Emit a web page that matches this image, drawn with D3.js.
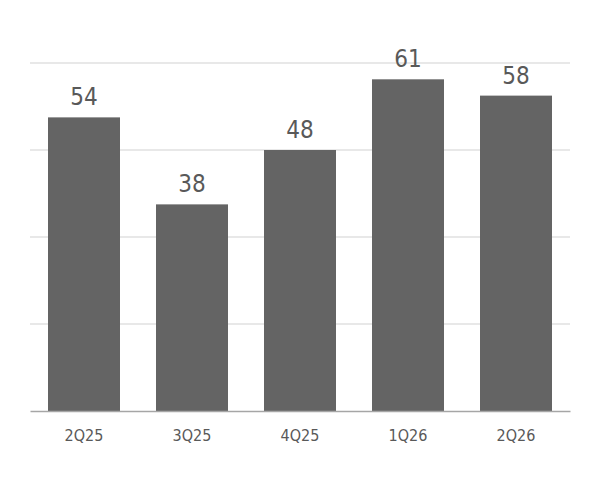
<!DOCTYPE html>
<html><head><meta charset="utf-8">
<script src="https://cdn.jsdelivr.net/npm/d3@7"></script>
<style>body{margin:0;background:#fff}</style></head>
<body><svg id="c" width="600" height="480"></svg>
<script>
const categories = ["2Q25","3Q25","4Q25","1Q26","2Q26"];
const values = [54,38,48,61,58];
const gridTicks = [0,16,32,48,64];

const svg = d3.select("#c");
const x = d3.scaleBand().domain(categories).range([30,570]).paddingInner(1/3).paddingOuter(1/6);
const y = d3.scaleLinear().domain([0,64]).range([411,63]);
const font = "'DejaVu Sans Condensed', 'Liberation Sans Narrow', sans-serif";

svg.append("g").selectAll("line").data(gridTicks.slice(1)).join("line")
  .attr("x1",30).attr("x2",570).attr("y1",d=>y(d)).attr("y2",d=>y(d))
  .attr("stroke","#e0e0e0").attr("stroke-width",1.5);

svg.append("g").selectAll("rect").data(values).join("rect")
  .attr("x",(d,i)=>x(categories[i])).attr("width",x.bandwidth())
  .attr("y",d=>y(d)).attr("height",d=>411-y(d)).attr("fill","#646464");

svg.append("g").selectAll("text").data(values).join("text")
  .attr("x",(d,i)=>x(categories[i])+x.bandwidth()/2).attr("y",d=>y(d)-12)
  .attr("text-anchor","middle").attr("font-family",font).attr("font-size",24)
  .attr("fill","#595959").text(d=>d);

const ax = svg.append("g").attr("transform","translate(0,411)")
  .call(d3.axisBottom(x).tickSize(0).tickPadding(19));
ax.select(".domain").attr("stroke","#a6a6a6").attr("stroke-width",1.5);
ax.selectAll("text").attr("font-family",font).attr("font-size",16).attr("fill","#595959");
</script></body></html>
